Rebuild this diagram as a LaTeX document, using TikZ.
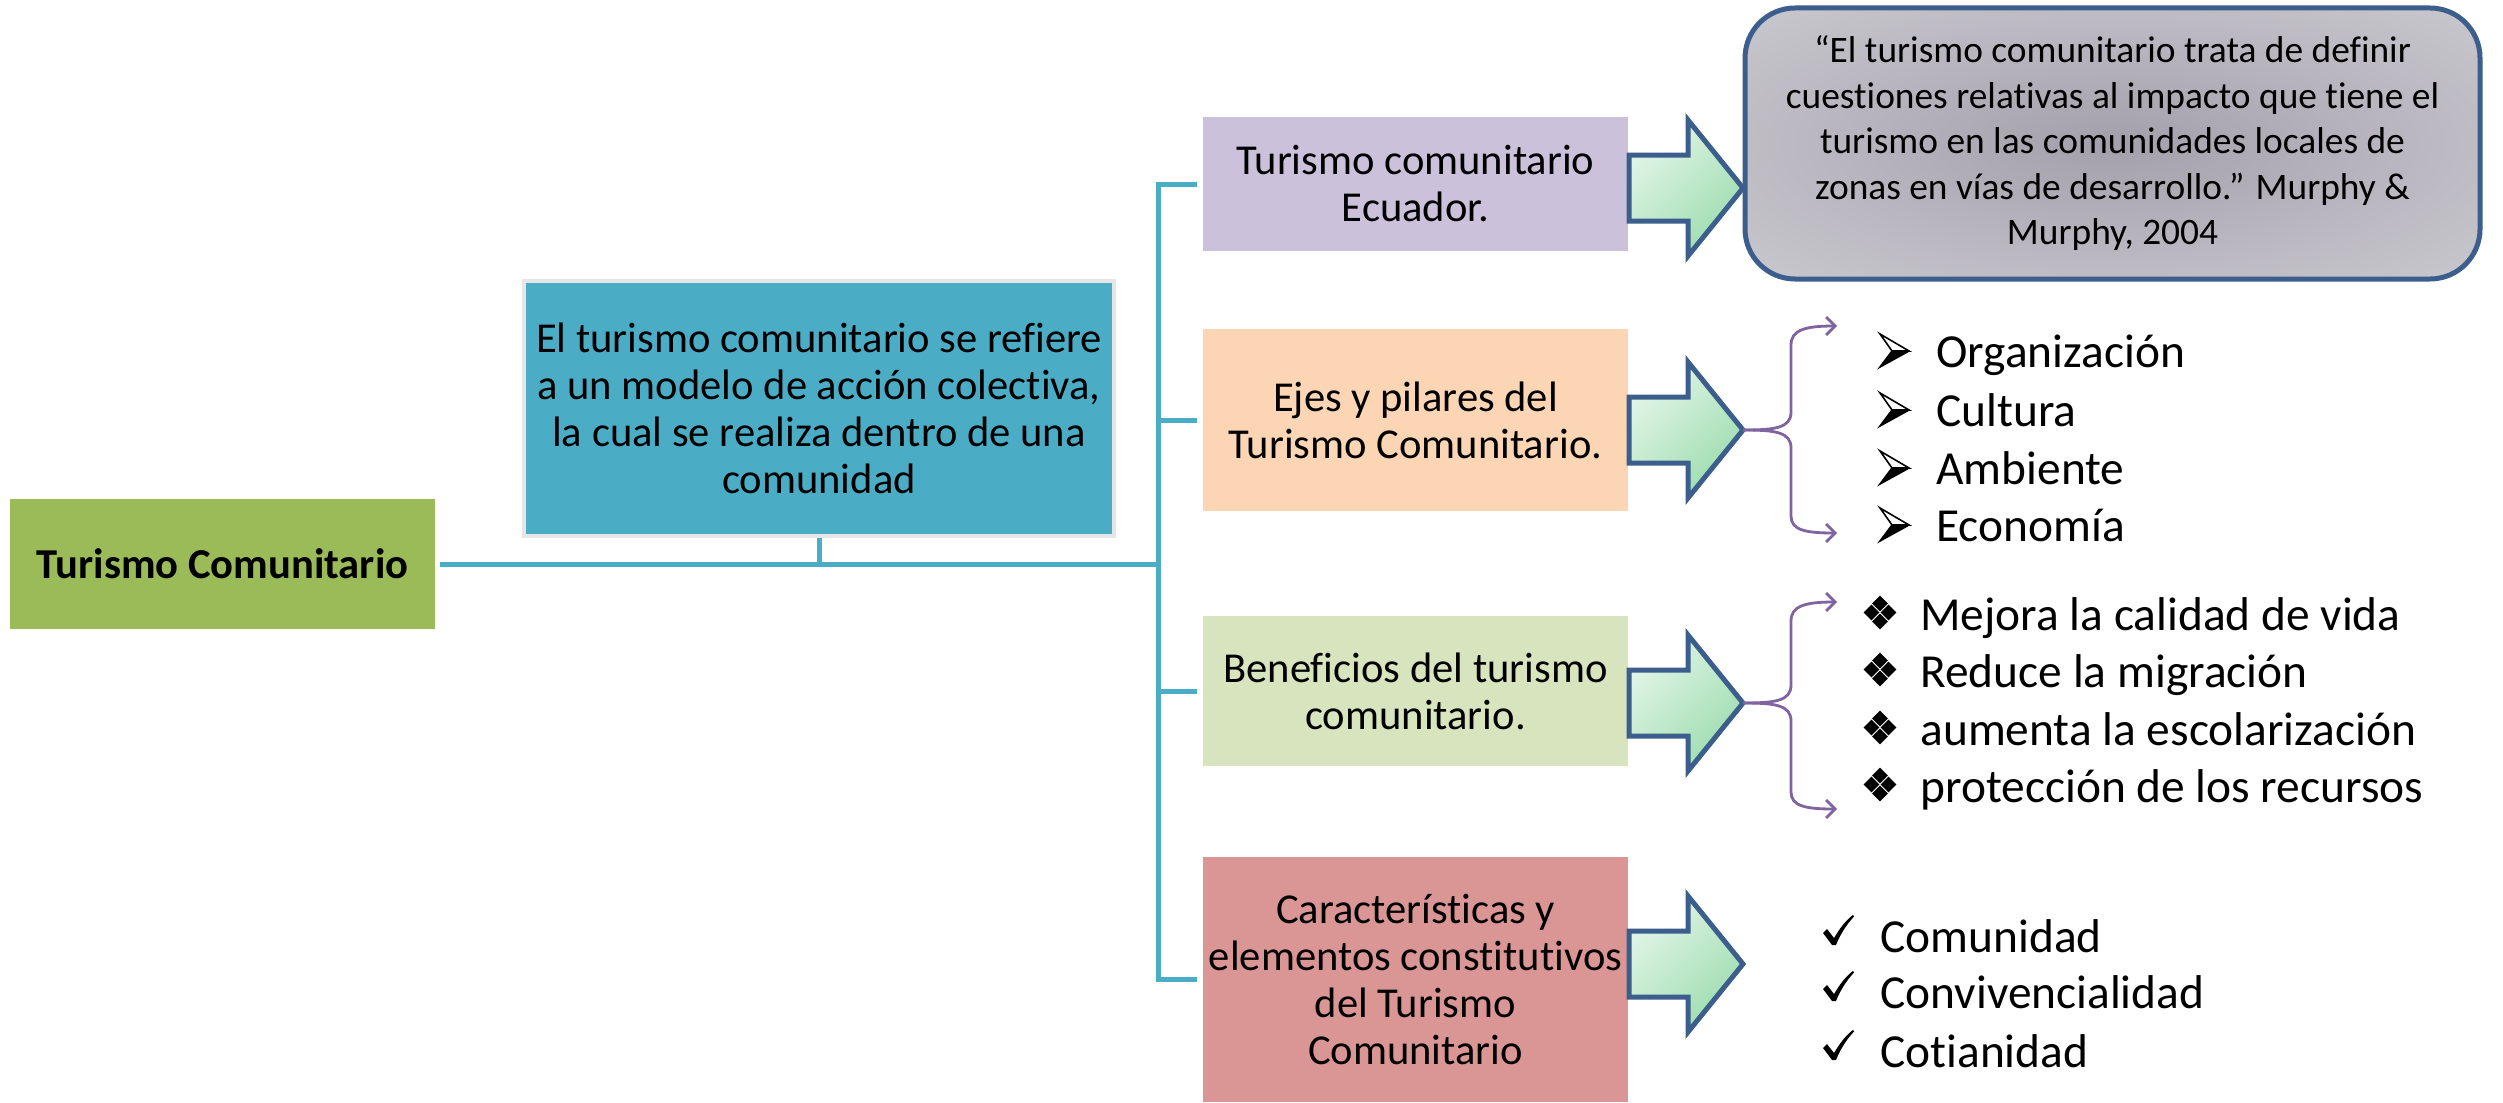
\documentclass[tikz,border=0pt]{standalone}
\usepackage{fontspec}
\setmainfont{Carlito}[Ligatures={NoCommon,NoRare,NoContextual}]
\usetikzlibrary{arrows.meta}
\definecolor{tcgreen}{HTML}{9BBB59}
\definecolor{tcblue}{HTML}{4BACC6}
\definecolor{tcgrayb}{HTML}{E6E6E6}
\definecolor{tcpurple}{HTML}{CCC1DA}
\definecolor{tcpeach}{HTML}{FCD5B5}
\definecolor{tclgreen}{HTML}{D7E4BD}
\definecolor{tcpink}{HTML}{D99694}
\definecolor{arrline}{HTML}{3B5E8C}
\definecolor{arrlight}{HTML}{E2F5E7}
\definecolor{arrdark}{HTML}{9CDCAE}
\definecolor{qinner}{HTML}{A4A0AB}
\definecolor{qouter}{HTML}{E6E6E9}
\definecolor{brcol}{HTML}{8064A2}
\pgfdeclareradialshading{tcqshade}{\pgfpointorigin}{color(0bp)=(qinner); color(62bp)=(qouter); color(75bp)=(qouter)}
\newcommand\tcboxfont{\fontsize{21.3}{23.5}\selectfont}
\newcommand\tcquotefont{\fontsize{18.7}{22.75}\selectfont}
\newcommand\tclistfont{\fontsize{23.7}{28}\selectfont}
\tikzset{
  box/.style={rectangle, inner sep=0pt, align=center, font=\tcboxfont, text=black},
  tline/.style={draw=tcblue, line width=2.5pt},
  blockarr/.style={draw=arrline, line width=2.5pt, line join=miter, left color=arrlight, right color=arrdark, shading angle=45},
  bracket/.style={draw=brcol, line width=1.4pt, -{Straight Barb[length=4.5pt,width=9pt]}},
  listitem/.style={anchor=base west, inner sep=0pt, font=\tclistfont, text=black},
  arrbul/.pic={
    \fill[black] (12,-16) -- (29,-16) -- (0,0) -- cycle;
    \draw[black, line width=0.8pt, fill=white, line join=miter] (0,-33) -- (29,-16) -- (12,-16) -- cycle;
    \draw[black, line width=0.8pt, line join=miter] (29,-16) -- (0,0) -- (12,-16);
  },
  diabul/.pic={
    \foreach \cx/\cy in {17/-26.5, 8.5/-17.5, 25.5/-17.5, 17/-8.5}
      \fill[black] (\cx,\cy-7.8) -- (\cx+7.8,\cy) -- (\cx,\cy+7.8) -- (\cx-7.8,\cy) -- cycle;
  },
  chkbul/.pic={
    \fill[black] (0,-12) -- (4,-16) -- (11,-7) .. controls (17,-17) and (23,-25) .. (30,-30) -- (31,-28.5) .. controls (23,-20) and (17,-10) .. (13,0) -- (9,0) -- cycle;
  }
}
\begin{document}
\begin{tikzpicture}[x=0.5pt,y=-0.5pt]
\useasboundingbox (0,0) rectangle (2503,1102);
% main boxes
\node[box, fill=tcgreen, minimum width=212.5pt, minimum height=65pt, font=\tcboxfont\bfseries] (root) at (222.5,564) {Turismo Comunitario};
\node[box, fill=tcblue, draw=tcgrayb, line width=2pt, minimum width=295pt, minimum height=127.5pt] (def) at (819,408.5) {El turismo comunitario se refiere\\a un modelo de acción colectiva,\\la cual se realiza dentro de una\\comunidad};
\node[box, fill=tcpurple, minimum width=212.5pt, minimum height=67pt] (b1) at (1415.5,184) {Turismo comunitario\\Ecuador.};
\node[box, fill=tcpeach, minimum width=212.5pt, minimum height=91pt] (b2) at (1415.5,420) {Ejes y pilares del\\Turismo Comunitario.};
\node[box, fill=tclgreen, minimum width=212.5pt, minimum height=75pt] (b3) at (1415.5,691) {Beneficios del turismo\\comunitario.};
\node[box, fill=tcpink, minimum width=212.5pt, minimum height=122.5pt] (b4) at (1415.5,979.5) {Características y\\elementos constitutivos\\del Turismo\\Comunitario};
% quote
\node[draw=arrline, line width=2.5pt, rounded corners=25pt, shade, shading=tcqshade, minimum width=367.5pt, minimum height=135.5pt, align=center, font=\tcquotefont, inner sep=0pt] (quote) at (2112.5,143.5) {“El turismo comunitario trata de definir\\cuestiones relativas al impacto que tiene el\\turismo en las comunidades locales de\\zonas en vías de desarrollo.” Murphy \&\\Murphy, 2004};
% teal tree
\coordinate (jn) at (1158,563);
\draw[tline, shorten <=2.5pt] (root.east) -- (root.east -| jn);
\draw[tline] (def.south) -- (def.south |- jn);
\draw[tline, line cap=rect] (b1.west -| jn) -- (b4.west -| jn);
\foreach \b in {b1,b2,b3,b4}
  \draw[tline, shorten >=3pt] (\b.west -| jn) -- (\b.west);
% block arrows
\foreach \n/\yy in {1/188,2/430,3/703,4/964}{
  \path[blockarr] (1629,\yy-33) -- (1688,\yy-33) -- (1688,\yy-68) -- (1743,\yy) -- (1688,\yy+68) -- (1688,\yy+33) -- (1629,\yy+33) -- cycle;
  \coordinate (tip\n) at (1743,\yy);
}
% brackets
\draw[bracket] (tip2) .. controls (1775,430) and (1791,428) .. (1791,412) -- (1791,345) .. controls (1791,330) and (1805,326) .. (1837,326);
\draw[bracket] (tip2) .. controls (1775,430) and (1791,432) .. (1791,448) -- (1791,516) .. controls (1791,530) and (1805,533) .. (1837,533);
\draw[bracket] (tip3) .. controls (1775,703) and (1791,701) .. (1791,685) -- (1791,621) .. controls (1791,606) and (1805,602) .. (1837,602);
\draw[bracket] (tip3) .. controls (1775,703) and (1791,705) .. (1791,721) -- (1791,792) .. controls (1791,806) and (1805,809) .. (1837,809);
% list: ejes
\foreach \n/\yy/\t in {1/367/Organización, 2/426/Cultura, 3/484/Ambiente, 4/541/Economía}{
  \pic at (1880,\yy) {arrbul};
  \node[listitem] (e\n) at (1936,\yy) {\t};
}
% list: beneficios
\foreach \n/\yy/\t in {1/630/Mejora la calidad de vida, 2/687/Reduce la migración, 3/745/aumenta la escolarización, 4/802/protección de los recursos}{
  \pic at (1863,\yy) {diabul};
  \node[listitem] (f\n) at (1920,\yy) {\t};
}
% list: caracteristicas
\foreach \n/\yy/\t in {1/952/Comunidad, 2/1008/Convivencialidad, 3/1067/Cotianidad}{
  \pic at (1823,\yy-7) {chkbul};
  \node[listitem] (g\n) at (1880,\yy) {\t};
}
\end{tikzpicture}
\end{document}
